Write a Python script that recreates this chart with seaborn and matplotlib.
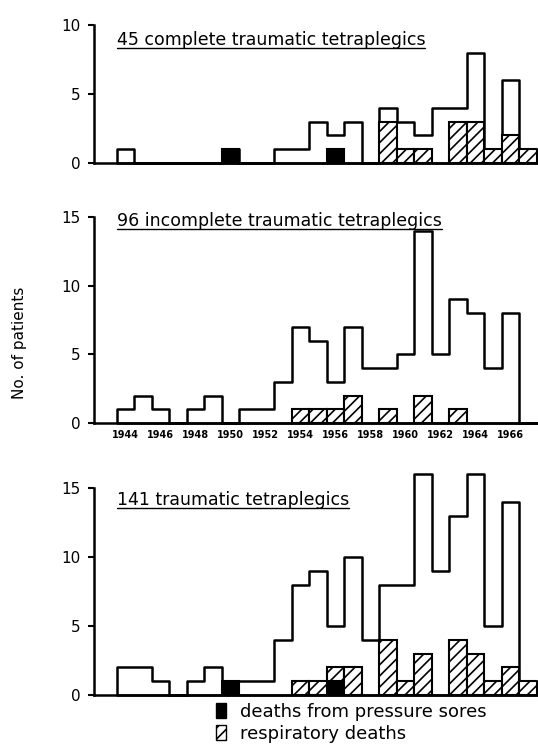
import matplotlib
matplotlib.use("Agg")
import numpy as np
import pandas as pd
import seaborn as sns
import matplotlib.pyplot as plt
from matplotlib.patches import Patch

# ---------------- data ----------------
years = list(range(1944, 1968))
complete_total = [1, 0, 0, 0, 0, 0, 1, 0, 0, 1, 1, 3, 2, 3, 0, 4, 3, 2, 4, 4, 8, 1, 6, 1]
complete_resp = [0, 0, 0, 0, 0, 0, 0, 0, 0, 0, 0, 0, 0, 0, 0, 3, 1, 1, 0, 3, 3, 1, 2, 1]
complete_sores = [0, 0, 0, 0, 0, 0, 1, 0, 0, 0, 0, 0, 1, 0, 0, 0, 0, 0, 0, 0, 0, 0, 0, 0]

incomplete_total = [1, 2, 1, 0, 1, 2, 0, 1, 1, 3, 7, 6, 3, 7, 4, 4, 5, 14, 5, 9, 8, 4, 8, 0]
incomplete_resp = [0, 0, 0, 0, 0, 0, 0, 0, 0, 0, 1, 1, 1, 2, 0, 1, 0, 2, 0, 1, 0, 0, 0, 0]
incomplete_sores = [0] * 24

all_total = [2, 2, 1, 0, 1, 2, 1, 1, 1, 4, 8, 9, 5, 10, 4, 8, 8, 16, 9, 13, 16, 5, 14, 1]
all_resp = [0, 0, 0, 0, 0, 0, 0, 0, 0, 0, 1, 1, 1, 2, 0, 4, 1, 3, 0, 4, 3, 1, 2, 1]
all_sores = [0, 0, 0, 0, 0, 0, 1, 0, 0, 0, 0, 0, 1, 0, 0, 0, 0, 0, 0, 0, 0, 0, 0, 0]

titles = ["45 complete traumatic tetraplegics",
          "96 incomplete traumatic tetraplegics",
          "141 traumatic tetraplegics"]
year_tick_labels = ["1944", "1946", "1948", "1950", "1952", "1954", "1956",
                    "1958", "1960", "1962", "1964", "1966"]
legend_labels = ["deaths from pressure sores", "respiratory deaths"]

# ---------------- style ----------------
sns.set_theme(style="ticks")
plt.rcParams["font.family"] = ["DejaVu Sans"]
plt.rcParams["hatch.linewidth"] = 1.2
plt.rcParams["hatch.color"] = "black"
for k in ("text.color", "axes.labelcolor", "xtick.color", "ytick.color"):
    plt.rcParams[k] = "black"

W, H = 538, 746
fig = plt.figure(figsize=(W / 100, H / 100), dpi=100)


def axes_px(left, right, top, bottom):
    return fig.add_axes([left / W, 1 - bottom / H, (right - left) / W, (bottom - top) / H])


LW = 1.8
panels = [
    dict(total=complete_total, resp=complete_resp, sores=complete_sores,
         box=(94, 537, 4.3, 163), ylim=11.5, ymax=10, yticks=[0, 5, 10],
         title=titles[0], ty=8.55, xlabels=False),
    dict(total=incomplete_total, resp=incomplete_resp, sores=incomplete_sores,
         box=(94, 537, 210, 423), ylim=15.5, ymax=15, yticks=[0, 5, 10, 15],
         title=titles[1], ty=14.3, xlabels=True),
    dict(total=all_total, resp=all_resp, sores=all_sores,
         box=(94, 537, 467.3, 695), ylim=16.5, ymax=15, yticks=[0, 5, 10, 15],
         title=titles[2], ty=13.75, xlabels=False),
]

texts = []
for p in panels:
    ax = axes_px(*p["box"])
    df_tot = pd.DataFrame({"year": years, "n": p["total"]})
    sns.histplot(data=df_tot, x="year", weights="n", discrete=True,
                 element="step", fill=True, color="white", facecolor="white",
                 edgecolor="black", linewidth=LW, alpha=1, ax=ax, clip_on=False)

    rows = []
    for y, s, r in zip(years, p["sores"], p["resp"]):
        rows.append({"year": y, "cause": "sores", "n": s})
        rows.append({"year": y, "cause": "resp", "n": r})
    df_d = pd.DataFrame(rows)
    if df_d["n"].sum() > 0:
        sns.histplot(data=df_d, x="year", weights="n", hue="cause",
                     hue_order=["resp", "sores"], multiple="stack",
                     discrete=True, element="bars", fill=True,
                     palette={"sores": "black", "resp": "white"},
                     edgecolor="black", linewidth=1.5, alpha=1,
                     legend=False, ax=ax)
        for cont in ax.containers:
            for patch in cont:
                if patch.get_height() == 0:
                    patch.set_visible(False)
                    continue
                fc = patch.get_facecolor()
                if fc[0] > 0.5:
                    patch.set_hatch("///")

    ax.set_xlim(1942.2, 1967.5)
    ax.set_ylim(0, p["ylim"])
    sns.despine(ax=ax)
    ax.spines["left"].set_bounds(0, p["ymax"])
    for sp in ("left", "bottom"):
        ax.spines[sp].set_linewidth(LW)
        ax.spines[sp].set_color("black")
    ax.set_yticks(p["yticks"])
    ax.set_yticklabels([str(v) for v in p["yticks"]], fontsize=11)
    ax.tick_params(axis="y", length=4.5, width=1.5, pad=5, color="black")
    if p["xlabels"]:
        ax.set_xticks(list(range(1944, 1967, 2)))
        ax.set_xticklabels(year_tick_labels, fontsize=7, fontweight="bold")
        ax.tick_params(axis="x", length=0, pad=5)
    else:
        ax.set_xticks([])
    ax.set_xlabel("")
    ax.set_ylabel("")
    ax.patch.set_alpha(0)
    t = ax.text(1943.5, p["ty"], p["title"], fontsize=12.5, ha="left", va="baseline")
    texts.append((ax, t))

fig.text(20 / W, 1 - 343 / H, "No. of patients", rotation=90,
         ha="center", va="center", fontsize=11)

# underline titles
fig.canvas.draw()
r = fig.canvas.get_renderer()
for ax, t in texts:
    bb = t.get_window_extent(r)
    base = ax.transData.transform((0, t.get_position()[1]))[1]
    inv = ax.transData.inverted()
    x0, y0 = inv.transform((bb.x0, base - 3))
    x1, _ = inv.transform((bb.x1, base - 3))
    ax.plot([x0, x1], [y0, y0], color="black", linewidth=1.0)

handles = [Patch(facecolor="black", edgecolor="black"),
           Patch(facecolor="white", edgecolor="black", hatch="///")]
fig.legend(handles, legend_labels, loc="upper left",
           bbox_to_anchor=(216 / W, 1 - 703 / H), frameon=False, fontsize=13,
           handlelength=0.55, handleheight=0.9, handletextpad=0.8,
           labelspacing=0.2, borderaxespad=0, borderpad=0)

fig.savefig("out.png", dpi=100)
